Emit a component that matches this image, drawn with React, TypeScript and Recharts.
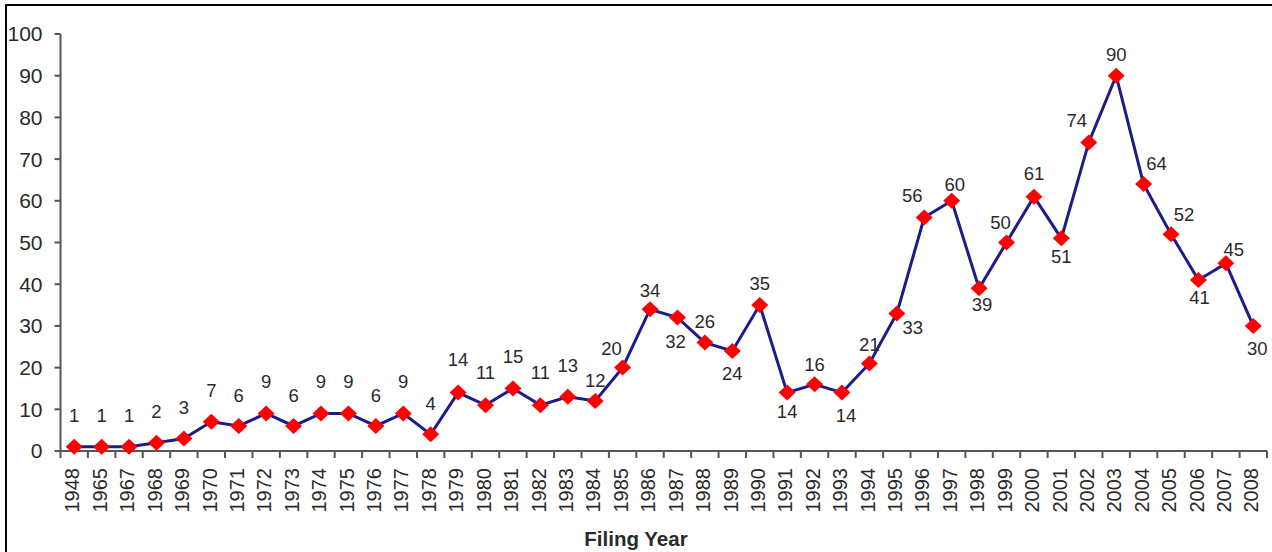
import React from 'react';
import { LineChart, Line, XAxis, YAxis, LabelList } from 'recharts';

const years = [
  '1948', '1965', '1967', '1968', '1969', '1970', '1971', '1972', '1973', '1974', '1975',
  '1976', '1977', '1978', '1979', '1980', '1981', '1982', '1983', '1984', '1985', '1986',
  '1987', '1988', '1989', '1990', '1991', '1992', '1993', '1994', '1995', '1996', '1997',
  '1998', '1999', '2000', '2001', '2002', '2003', '2004', '2005', '2006', '2007', '2008',
];

const filings = [
  1, 1, 1, 2, 3, 7, 6, 9, 6, 9, 9,
  6, 9, 4, 14, 11, 15, 11, 13, 12, 20, 34,
  32, 26, 24, 35, 14, 16, 14, 21, 33, 56, 60,
  39, 50, 61, 51, 74, 90, 64, 52, 41, 45, 30,
];

const yTicks = [0, 10, 20, 30, 40, 50, 60, 70, 80, 90, 100];

// where each value label sits relative to its marker [dx, dy]
const labelOffsets: [number, number][] = [
  [0, -31], [0, -31], [0, -31], [0, -31], [0, -31], [0, -31], [0, -31], [0, -32], [0, -31], [0, -32], [0, -32],
  [0, -31], [0, -32], [0, -31], [0, -33], [0, -33], [0, -32], [0, -33], [0, -31], [0, -21], [-11, -19], [0, -19],
  [-2, 24], [0, -21], [0, 22], [0, -22], [0, 19], [0, -20], [4, 23], [0, -19], [16, 14], [-12, -22], [3, -16],
  [3, 16], [-6, -20], [0, -23], [0, 18], [-12, -22], [0, -21], [13, -21], [13, -20], [1, 17], [8, -14], [4, 22],
];

const data = years.map((year, i) => ({ year, filings: filings[i] }));

const W = 1272;
const H = 552;
const margin = { top: 34, right: 5, bottom: 0, left: 0 };
const yAxisWidth = 60.5;
const xAxisHeight = 101;
const band = (W - margin.left - margin.right - yAxisWidth) / years.length;
const font = "'Liberation Sans', Arial, sans-serif";
const axisColor = '#555';
const textColor = '#2a2a2a';

const XTick = (props: any) => {
  const { x, y, payload, index } = props;
  const axisY = y - 8;
  return (
    <g>
      <line x1={x - band / 2} x2={x - band / 2} y1={axisY} y2={axisY + 7} stroke={axisColor} strokeWidth={2} />
      {index === years.length - 1 && (
        <line x1={x + band / 2} x2={x + band / 2} y1={axisY} y2={axisY + 7} stroke={axisColor} strokeWidth={2} />
      )}
      <text
        transform={`translate(${x - 2},${axisY + 17}) rotate(-90)`}
        textAnchor="end"
        dy="0.36em"
        fontSize={20}
        fontFamily={font}
        fill={textColor}
      >
        {payload.value}
      </text>
    </g>
  );
};

const Diamond = (props: any) => {
  const { cx, cy } = props;
  if (cx == null || cy == null) return null;
  return (
    <polygon
      points={`${cx},${cy - 8} ${cx + 8.5},${cy} ${cx},${cy + 8} ${cx - 8.5},${cy}`}
      fill="#ff0000"
      stroke="none"
    />
  );
};

const ValueLabel = (props: any) => {
  const { x, y, value, index } = props;
  const [dx, dy] = labelOffsets[index] || [0, -25];
  return (
    <text
      x={x + dx}
      y={y + dy}
      dy="0.36em"
      textAnchor="middle"
      fontSize={18.5}
      fontFamily={font}
      fill={textColor}
    >
      {value}
    </text>
  );
};

export default function App() {
  return (
    <div style={{ position: 'absolute', left: 0, top: 0, width: W, height: H, overflow: 'hidden', background: '#fff' }}>
      <div
        style={{
          position: 'absolute', left: 5, top: 4, width: W + 20, height: H + 20,
          borderTop: '2px solid #000', borderLeft: '2px solid #000',
        }}
      />
      <div style={{ position: 'absolute', left: 0, top: 0 }}>
        <LineChart width={W} height={H} data={data} margin={margin}>
          <XAxis
            dataKey="year"
            interval={0}
            height={xAxisHeight}
            padding={{ left: band / 2, right: band / 2 }}
            tickLine={false}
            tick={<XTick />}
            stroke={axisColor}
            strokeWidth={2}
          />
          <YAxis
            width={yAxisWidth}
            domain={[0, 100]}
            ticks={yTicks}
            interval={0}
            tickSize={6}
            tickMargin={12}
            stroke={axisColor}
            strokeWidth={2}
            tick={{ fontSize: 21, fontFamily: font, fill: textColor }}
          />
          <Line
            type="linear"
            dataKey="filings"
            stroke="#1c1c8a"
            strokeWidth={3}
            dot={<Diamond />}
            activeDot={false}
            isAnimationActive={false}
          >
            <LabelList dataKey="filings" content={<ValueLabel />} />
          </Line>
        </LineChart>
      </div>
      <div
        style={{
          position: 'absolute', left: 0, width: W, top: 527, textAlign: 'center',
          fontFamily: font, fontWeight: 'bold', fontSize: 20.5, color: textColor,
        }}
      >
        Filing Year
      </div>
    </div>
  );
}
